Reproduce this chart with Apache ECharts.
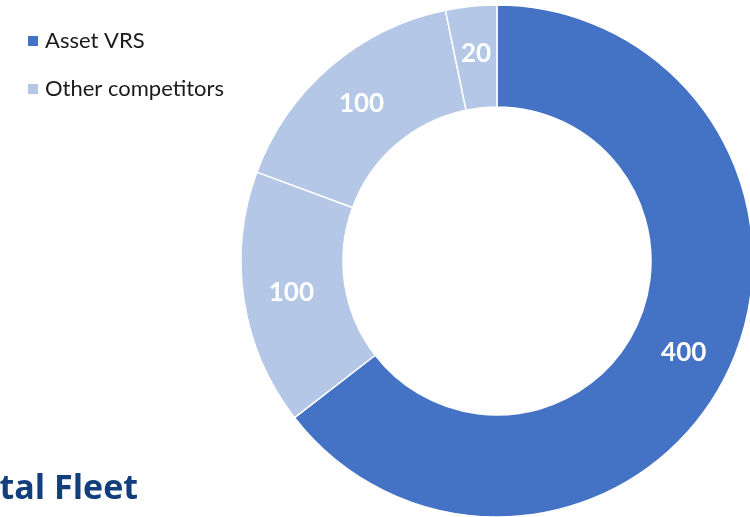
<!DOCTYPE html>
<html>
<head>
<meta charset="utf-8">
<script src="https://cdn.jsdelivr.net/npm/echarts@6/dist/echarts.min.js"></script>
<style>
  html, body { margin: 0; padding: 0; background: #fff; }
  #chart { width: 750px; height: 517px; }
</style>
</head>
<body>
<div id="chart"></div>
<script>
// Fleet split: one operator against the rest of the market
const segmentNames = ['Asset VRS', 'Other competitors', 'Other competitors', 'Other competitors'];
const segmentValues = [400, 100, 100, 20];
const legendNames = ['Asset VRS', 'Other competitors'];
const titleText = 'Total Fleet';

const colorFor = {
  'Asset VRS': '#4472C4',
  'Other competitors': '#B4C7E7'
};

const chart = echarts.init(document.getElementById('chart'));

chart.setOption({
  animation: false,
  textStyle: { fontFamily: 'Lato' },
  legend: {
    data: legendNames,
    orient: 'vertical',
    left: 21,
    top: 25,
    icon: 'rect',
    itemWidth: 12,
    itemHeight: 12,
    itemGap: 26,
    selectedMode: false,
    textStyle: { fontFamily: 'Lato', fontSize: 22, color: '#1a1a1a', padding: [0, 0, 0, 1] }
  },
  graphic: [{
    type: 'text',
    right: 750 - 138,
    top: 472,
    style: {
      text: titleText,
      font: 'bold 34px "Open Sans"',
      fill: '#123E7C'
    }
  }],
  series: [{
    type: 'pie',
    center: [497, 261],
    radius: [154, 256],
    startAngle: 90,
    clockwise: true,
    avoidLabelOverlap: false,
    itemStyle: { borderColor: '#ffffff', borderWidth: 1.5 },
    label: {
      show: true,
      position: 'inside',
      formatter: '{c}',
      color: '#ffffff',
      fontFamily: 'Lato',
      fontWeight: 'bold',
      fontSize: 26
    },
    labelLine: { show: false },
    emphasis: { disabled: true },
    data: segmentValues.map((v, i) => ({
      name: segmentNames[i],
      value: v,
      itemStyle: { color: colorFor[segmentNames[i]] }
    }))
  }]
});
</script>
</body>
</html>
